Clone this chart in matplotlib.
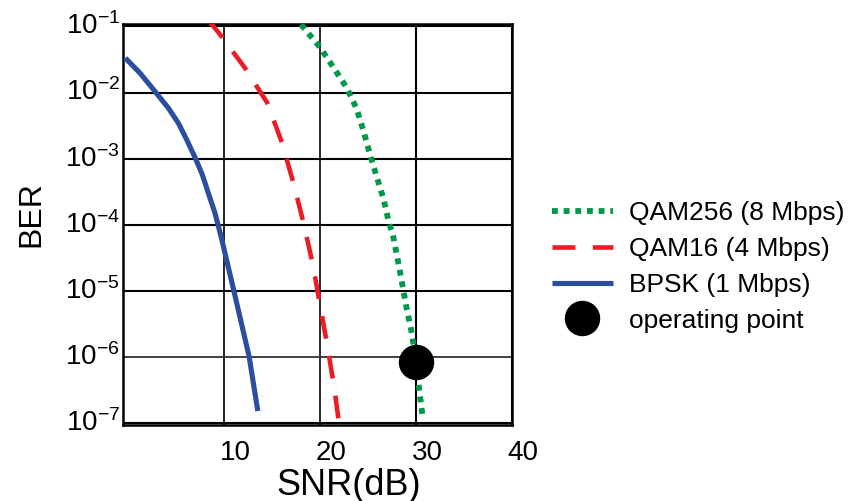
import matplotlib
matplotlib.use('Agg')
import matplotlib.pyplot as plt
from matplotlib.ticker import NullLocator, FixedLocator, FixedFormatter
from matplotlib.transforms import ScaledTranslation

plt.rcParams['font.family'] = ['Liberation Sans', 'DejaVu Sans']
plt.rcParams['mathtext.fontset'] = 'custom'
plt.rcParams['mathtext.rm'] = 'Liberation Sans'
plt.rcParams['mathtext.it'] = 'Liberation Sans:italic'
plt.rcParams['mathtext.bf'] = 'Liberation Sans:bold'

# values
bpsk_snr = [-0.33, 1.22, 2.78, 4.17, 5.21, 6.08, 6.95, 7.71, 8.33, 9.03, 9.66, 11.0, 12.6, 13.5]
bpsk_ber = [3.33e-2, 1.96e-2, 1.035e-2, 5.81e-3, 3.44e-3, 1.93e-3, 1.04e-3, 5.7e-4,
            3.02e-4, 1.5e-4, 6.67e-5, 1.0e-5, 1.0e-6, 1.51e-7]

qam16_snr = [8.3, 9.45, 12.15, 14.46, 16.0, 17.22, 18.28, 19.24, 20.0, 20.78, 21.48, 21.95]
qam16_ber = [1.26e-1, 7.94e-2, 2.37e-2, 7.08e-3, 1.78e-3, 4.27e-4, 1.05e-4, 2.51e-5,
             6.03e-6, 1.41e-6, 3.39e-7, 1.05e-7]

qam256_snr = [18.0, 19.97, 21.35, 22.75, 23.8, 24.55, 25.18, 25.94, 26.64, 27.19, 27.6,
              28.3, 29.0, 29.5, 29.85, 30.35, 30.73]
qam256_ber = [1.07e-1, 4.9e-2, 2.45e-2, 1.2e-2, 5.75e-3, 2.57e-3, 1.2e-3, 5.13e-4, 2.4e-4,
              1.07e-4, 7.08e-5, 2.09e-5, 5.75e-6, 2.57e-6, 1.26e-6, 3.16e-7, 1.15e-7]

op_snr = [30.0]
op_ber = [8.4e-7]

x_ticks = [10, 20, 30, 40]
y_ticks = [1e-7, 1e-6, 1e-5, 1e-4, 1e-3, 1e-2, 1e-1]
y_labels = [r'$10^{-7}$', r'$10^{-6}$', r'$10^{-5}$', r'$10^{-4}$',
            r'$10^{-3}$', r'$10^{-2}$', r'$10^{-1}$']

fig = plt.figure(figsize=(8.57, 5.01), dpi=100)
ax = fig.add_axes([0.1432, 0.1517, 0.4539, 0.8004])

ax.set_yscale('log')
ax.set_xlim(-0.6, 40)
ax.set_ylim(9.3e-8, 1.09e-1)

ax.plot(qam256_snr, qam256_ber, color='#00994a', lw=4.2, dashes=(1, 1),
        label='QAM256 (8 Mbps)', zorder=3)
ax.plot(qam16_snr, qam16_ber, color='#ec1c24', lw=3.3, dashes=(5, 3.8),
        label='QAM16 (4 Mbps)', zorder=3)
ax.plot(bpsk_snr, bpsk_ber, color='#2a4f9f', lw=3.7, solid_capstyle='butt',
        solid_joinstyle='round', label='BPSK (1 Mbps)', zorder=3)
ax.plot(op_snr, op_ber, 'o', color='black', ms=24.5, ls='none',
        label='operating point', zorder=4)

ax.xaxis.set_major_locator(FixedLocator(x_ticks))
ax.yaxis.set_major_locator(FixedLocator(y_ticks))
ax.yaxis.set_major_formatter(FixedFormatter(y_labels))
ax.yaxis.set_minor_locator(NullLocator())
ax.xaxis.set_minor_locator(NullLocator())

ax.grid(True, color='black', lw=1.5)
# a few grid lines are a bit thinner in the reference
xg = ax.xaxis.get_gridlines()
xg[0].set(lw=1.3, color='#111111')
xg[1].set(lw=1.3, color='#1a1a1a')
yg = ax.yaxis.get_gridlines()
yg[1].set(lw=1.3, color='#333333')

ax.tick_params(axis='both', length=0, labelsize=20)
ax.tick_params(axis='x', pad=11)
ax.tick_params(axis='y', pad=2)
for sp in ax.spines.values():
    sp.set_linewidth(1.8)

shift_x = ScaledTranslation(11 / 100, 0, fig.dpi_scale_trans)
for lab in ax.get_xticklabels():
    lab.set_transform(lab.get_transform() + shift_x)
shift_y = ScaledTranslation(0, 3 / 100, fig.dpi_scale_trans)
for lab in ax.get_yticklabels():
    lab.set_transform(lab.get_transform() + shift_y)

fig.text(348.5 / 857, 6 / 501, 'SNR(dB)', fontsize=26, ha='center', va='baseline')
fig.text(31.5 / 857, 1 - 214.5 / 501, 'BER', fontsize=23, rotation=90,
         ha='center', va='center')

ax.legend(loc='upper left', bbox_to_anchor=(552 / 857, 1 - 201 / 501),
          bbox_transform=fig.transFigure, frameon=False, fontsize=19,
          handlelength=2.3, handletextpad=0.6, borderpad=0, borderaxespad=0,
          labelspacing=0.45)

fig.savefig('out.png', dpi=100)
